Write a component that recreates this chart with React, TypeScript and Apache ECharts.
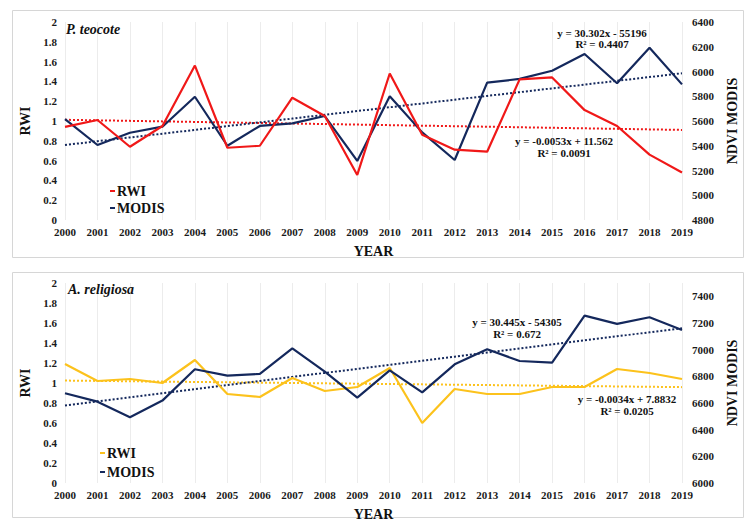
import React, { useEffect, useRef } from "react";
import * as echarts from "echarts";

const years = ["2000","2001","2002","2003","2004","2005","2006","2007","2008","2009","2010","2011","2012","2013","2014","2015","2016","2017","2018","2019"];

const rwiTeocote = [0.94, 1.01, 0.74, 0.95, 1.56, 0.73, 0.75, 1.235, 1.05, 0.455, 1.48, 0.86, 0.71, 0.69, 1.42, 1.44, 1.11, 0.95, 0.66, 0.48];
const modisTeocote = [5616, 5406, 5505, 5554, 5796, 5400, 5560, 5581, 5640, 5277, 5800, 5508, 5285, 5910, 5940, 6006, 6141, 5905, 6192, 5896];

const rwiReligiosa = [1.19, 1.02, 1.04, 1.0, 1.23, 0.89, 0.86, 1.05, 0.92, 0.96, 1.15, 0.6, 0.94, 0.89, 0.89, 0.96, 0.96, 1.14, 1.1, 1.04];
const modisReligiosa = [6673, 6610, 6493, 6618, 6853, 6805, 6818, 7010, 6835, 6640, 6845, 6680, 6890, 7003, 6915, 6903, 7255, 7193, 7243, 7148];

const speciesNames = ["P. teocote", "A. religiosa"];
const eqTeocoteModis = ["y = 30.302x - 55196", "R² = 0.4407"];
const eqTeocoteRwi = ["y = -0.0053x + 11.562", "R² = 0.0091"];
const eqReligiosaModis = ["y = 30.445x - 54305", "R² = 0.672"];
const eqReligiosaRwi = ["y = -0.0034x + 7.8832", "R² = 0.0205"];

const RED = "#f01818";
const NAVY = "#14285c";
const GOLD = "#fcc21c";
const FONT = "'Liberation Serif', 'Times New Roman', serif";

function trend(v: number[]): number[] {
  const n = v.length;
  const mx = (n - 1) / 2;
  const my = v.reduce((a, b) => a + b, 0) / n;
  let sxy = 0;
  let sxx = 0;
  v.forEach((y, i) => {
    sxy += (i - mx) * (y - my);
    sxx += (i - mx) * (i - mx);
  });
  const slope = sxy / sxx;
  return v.map((_, i) => +(my + slope * (i - mx)).toFixed(5));
}

function txt(text: string, x: number, y: number, size: number, style: string = "normal", align: string = "center") {
  return {
    type: "text",
    x,
    y,
    z: 100,
    silent: true,
    style: {
      text,
      fill: "#111",
      font: `${style} bold ${size}px ${FONT}`,
      textAlign: align,
      textVerticalAlign: "middle",
    },
  };
}

export default function App() {
  const ref = useRef<HTMLDivElement>(null);
  useEffect(() => {
    if (!ref.current) return;
    const chart = echarts.init(ref.current, undefined, { renderer: "svg" });

    const labelStyle = { color: "#1a1a1a", fontFamily: FONT, fontWeight: "bold" as const, fontSize: 11 };
    const nameStyle = { color: "#111", fontFamily: FONT, fontWeight: "bold" as const, fontSize: 14 };

    const xAxis = (gridIndex: number) => ({
      type: "category",
      gridIndex,
      data: years,
      boundaryGap: false,
      name: "YEAR",
      nameLocation: "middle",
      nameGap: 24,
      nameTextStyle: nameStyle,
      axisLine: { show: false },
      axisTick: { show: false },
      axisLabel: { ...labelStyle, margin: 6, interval: 0 },
      splitLine: { show: true, lineStyle: { color: "#ececec", width: 1 } },
    });

    const leftAxis = (gridIndex: number) => ({
      type: "value",
      gridIndex,
      min: 0,
      max: 2,
      interval: 0.2,
      name: "RWI",
      nameLocation: "middle",
      nameRotate: 90,
      nameGap: 28,
      nameTextStyle: nameStyle,
      axisLine: { show: false },
      axisTick: { show: false },
      splitLine: { show: false },
      axisLabel: { ...labelStyle, margin: 8 },
    });

    const rightAxis = (gridIndex: number, min: number, max: number, hideMax: boolean) => ({
      type: "value",
      gridIndex,
      position: "right",
      min,
      max,
      interval: 200,
      name: "NDVI MODIS",
      nameLocation: "middle",
      nameRotate: 90,
      nameGap: 43,
      nameTextStyle: nameStyle,
      axisLine: { show: false },
      axisTick: { show: false },
      splitLine: { show: false },
      axisLabel: { ...labelStyle, margin: 10, showMaxLabel: !hideMax, formatter: (v: number) => String(v) },
    });

    const line = (name: string, data: number[], color: string, xi: number, yi: number, dotted = false) => ({
      name,
      type: "line",
      xAxisIndex: xi,
      yAxisIndex: yi,
      data,
      symbol: "none",
      silent: true,
      z: dotted ? 1 : 3,
      lineStyle: { color, width: dotted ? 2 : 2.2, type: dotted ? "dotted" : "solid" },
      itemStyle: { color },
    });

    const legendCfg = (left: number, top: number, gap: number, data: string[]) => ({
      orient: "vertical",
      left,
      top,
      data,
      icon: "rect",
      itemWidth: 5,
      itemHeight: 2,
      itemGap: gap,
      selectedMode: false,
      textStyle: { ...nameStyle, fontSize: 14, color: "#111", padding: [0, 0, 0, -3] },
      formatter: (n: string) => n.split("_")[0],
    });

    chart.setOption({
      animation: false,
      backgroundColor: "#fff",
      grid: [
        { left: 65, right: 70, top: 22, height: 198 },
        { left: 65, right: 70, top: 283, height: 200 },
      ],
      xAxis: [xAxis(0), xAxis(1)],
      yAxis: [leftAxis(0), rightAxis(0, 4800, 6400, false), leftAxis(1), rightAxis(1, 6000, 7500, true)],
      legend: [
        legendCfg(105, 179, 3, ["RWI_a", "MODIS_a"]),
        legendCfg(95, 441, 5, ["RWI_b", "MODIS_b"]),
      ],
      series: [
        line("trendRwiA", trend(rwiTeocote), RED, 0, 0, true),
        line("trendModisA", trend(modisTeocote), NAVY, 0, 1, true),
        line("MODIS_a", modisTeocote, NAVY, 0, 1),
        line("RWI_a", rwiTeocote, RED, 0, 0),
        line("trendRwiB", trend(rwiReligiosa), GOLD, 1, 2, true),
        line("trendModisB", trend(modisReligiosa), NAVY, 1, 3, true),
        line("RWI_b", rwiReligiosa, GOLD, 1, 2),
        line("MODIS_b", modisReligiosa, NAVY, 1, 3),
      ],
      graphic: [
        { type: "rect", silent: true, shape: { x: 12.5, y: 10.5, width: 731, height: 247 }, style: { fill: "none", stroke: "#d6d6d6", lineWidth: 1 } },
        { type: "rect", silent: true, shape: { x: 12.5, y: 272.5, width: 731, height: 245 }, style: { fill: "none", stroke: "#d6d6d6", lineWidth: 1 } },
        txt(speciesNames[0], 66, 29, 14, "italic", "left"),
        txt(speciesNames[1], 68, 289, 14, "italic", "left"),
        txt(eqTeocoteModis[0], 602, 33, 11),
        txt(eqTeocoteModis[1], 602, 43.5, 11),
        txt(eqTeocoteRwi[0], 564, 141, 11),
        txt(eqTeocoteRwi[1], 564, 153, 11),
        txt(eqReligiosaModis[0], 517, 322, 11),
        txt(eqReligiosaModis[1], 517, 333.5, 11),
        txt(eqReligiosaRwi[0], 627, 399, 11),
        txt(eqReligiosaRwi[1], 627, 411, 11),
      ],
    });

    return () => chart.dispose();
  }, []);

  return (
    <div
      ref={ref}
      style={{ position: "fixed", left: 0, top: 0, width: 752, height: 525, background: "#fff" }}
    />
  );
}
